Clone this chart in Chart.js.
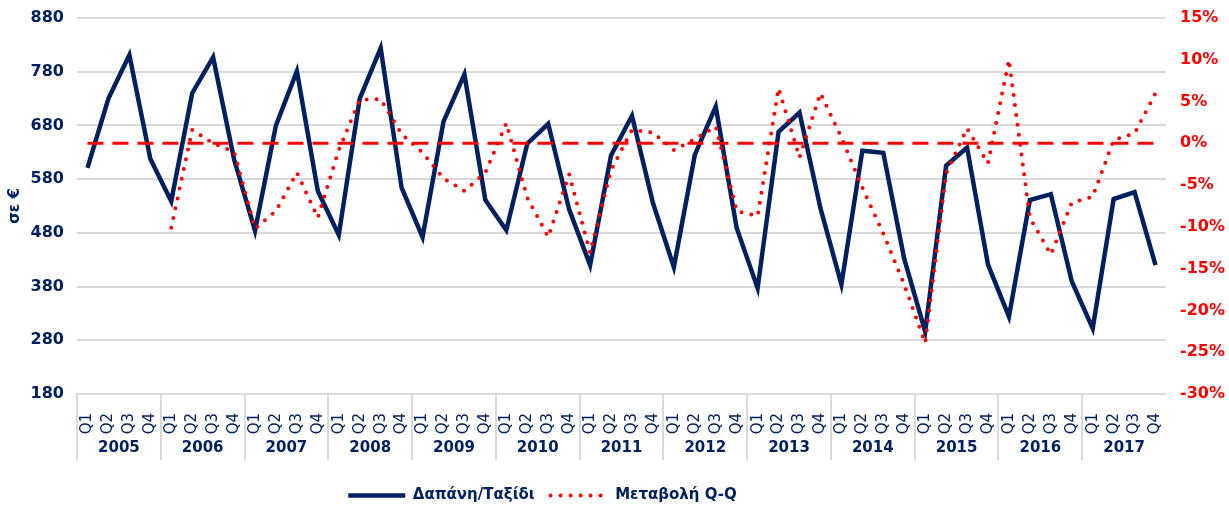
<!DOCTYPE html>
<html>
<head>
<meta charset="utf-8">
<script src="https://cdn.jsdelivr.net/npm/chart.js@4.4.1/dist/chart.umd.min.js"></script>
<style>
    html, body { margin: 0; padding: 0; background: #fff; }
</style>
</head>
<body>
<canvas id="chart" width="1229" height="513"></canvas>
<script>
// data
const years = ['2005', '2006', '2007', '2008', '2009', '2010', '2011',
               '2012', '2013', '2014', '2015', '2016', '2017'];
const quarterNames = ['Q1', 'Q2', 'Q3', 'Q4'];
const quarterLabels = years.flatMap(() => quarterNames);

// Δαπάνη/Ταξίδι, σε €
const spending = [
    601, 730, 811, 618,
    539, 740, 807, 617,
    484, 680, 781, 558,
    476, 730, 824, 564,
    472, 687, 775, 541,
    485, 646, 683, 524,
    420, 624, 698, 536,
    416, 625, 715, 489,
    377, 668, 704, 526,
    384, 633, 629, 432,
    296, 605, 639, 421,
    324, 541, 552, 390,
    302, 543, 556, 420
];

// Μεταβολή Q-Q, %
const qoqChange = [
    null, null, null, null,
    -10.1, 1.6, 0.0, -1.0,
    -10.2, -8.1, -3.5, -8.9,
    -0.8, 5.2, 5.3, 1.1,
    -1.1, -4.2, -5.7, -3.5,
    2.4, -6.5, -11.2, -3.7,
    -13.1, -3.2, 1.6, 1.3,
    -0.8, 0.5, 2.0, -8.1,
    -8.7, 6.6, -1.7, 6.0,
    0.7, -5.3, -10.8, -16.9,
    -23.9, -3.6, 1.8, -2.4,
    10.0, -8.9, -13.3, -7.1,
    -6.4, 0.4, 1.2, 6.0
];

const zeroLine = spending.map(() => 0);

const leftTicks = { min: 180, max: 880, step: 100 };
const rightTicks = { min: -30, max: 15, step: 5 };

const NAVY = '#002060';
const RED = '#ff0000';
const GRID = '#d9d9d9';
const FONT = 'DejaVu Sans';

// the legend in the reference sits left of centre
const legendShift = {
    id: 'legendShift',
    afterLayout(chart) {
        chart.legend.left -= 72;
        chart.legend.right -= 72;
    }
};

// legend samples should use the dataset line styles (dots for Q-Q)
function legendLabels(chart) {
    const items = Chart.defaults.plugins.legend.labels.generateLabels(chart);
    items.forEach((item) => {
        const ds = chart.data.datasets[item.datasetIndex];
        item.strokeStyle = ds.borderColor;
        item.lineWidth = ds.borderWidth;
        item.lineDash = ds.borderDash || [];
        item.lineCap = ds.borderCapStyle || 'butt';
        item.pointStyle = 'line';
    });
    return items;
}

// keep the tick padding from pushing the plot area down
function fixSide(width) {
    return function (scale) {
        scale.width = width;
        scale.paddingTop = 9;
        scale.paddingBottom = 9;
    };
}

const ctx = document.getElementById('chart').getContext('2d');
const chart = new Chart(ctx, {
    type: 'line',
    data: {
        labels: quarterLabels,
        datasets: [{
            label: 'Δαπάνη/Ταξίδι',
            data: spending,
            yAxisID: 'y',
            borderColor: NAVY,
            backgroundColor: NAVY,
            borderWidth: 4.5,
            borderJoinStyle: 'miter',
            pointRadius: 0,
            tension: 0,
            order: 3
        }, {
            label: 'zero',
            data: zeroLine,
            yAxisID: 'y1',
            borderColor: RED,
            borderWidth: 3,
            borderDash: [16, 9],
            pointRadius: 0,
            order: 2
        }, {
            label: 'Μεταβολή Q-Q',
            data: qoqChange,
            yAxisID: 'y1',
            borderColor: RED,
            backgroundColor: RED,
            borderWidth: 4,
            borderDash: [0, 10],
            borderCapStyle: 'round',
            pointRadius: 0,
            tension: 0,
            order: 1
        }]
    },
    options: {
        responsive: false,
        animation: false,
        layout: {
            padding: { top: 18, left: 0, right: 0, bottom: 0 }
        },
        plugins: {
            tooltip: { enabled: false },
            legend: {
                position: 'bottom',
                labels: {
                    usePointStyle: true,
                    pointStyle: 'line',
                    pointStyleWidth: 57,
                    padding: 16,
                    color: NAVY,
                    font: { family: FONT, size: 15, weight: 'bold' },
                    generateLabels: legendLabels,
                    filter: (item) => item.text !== 'zero',
                    sort: (a, b) => a.datasetIndex - b.datasetIndex
                }
            }
        },
        scales: {
            x: {
                type: 'category',
                offset: true,
                grid: {
                    offset: true,
                    drawOnChartArea: false,
                    tickLength: 66,
                    lineWidth: 2,
                    color: (c) => c.index % 4 === 0 ? GRID : 'rgba(0,0,0,0)'
                },
                border: { color: GRID, width: 2 },
                ticks: {
                    autoSkip: false,
                    maxRotation: 90,
                    minRotation: 90,
                    padding: -47,
                    color: NAVY,
                    font: { family: FONT, size: 15 }
                },
                afterFit(scale) { scale.height = 42; }
            },
            x2: {
                type: 'category',
                position: 'bottom',
                labels: years,
                offset: true,
                grid: { display: false, drawTicks: false },
                border: { display: false },
                ticks: {
                    autoSkip: false,
                    maxRotation: 0,
                    padding: 3,
                    color: NAVY,
                    font: { family: FONT, size: 15, weight: 'bold' }
                },
                afterFit(scale) { scale.height = 36; }
            },
            y: {
                position: 'left',
                min: leftTicks.min,
                max: leftTicks.max,
                grid: { color: GRID, lineWidth: 2, drawTicks: false },
                border: { display: false },
                title: {
                    display: true,
                    text: 'σε €',
                    color: NAVY,
                    font: { family: FONT, size: 15, weight: 'bold' },
                    padding: { top: 6, bottom: 0 }
                },
                ticks: {
                    stepSize: leftTicks.step,
                    padding: 13,
                    color: NAVY,
                    font: { family: FONT, size: 16, weight: 'bold' }
                },
                afterFit: fixSide(77)
            },
            y1: {
                position: 'right',
                min: rightTicks.min,
                max: rightTicks.max,
                grid: { drawOnChartArea: false, drawTicks: false },
                border: { display: false },
                ticks: {
                    stepSize: rightTicks.step,
                    padding: 14,
                    color: RED,
                    font: { family: FONT, size: 16, weight: 'bold' },
                    callback: (v) => v + '%'
                },
                afterFit: fixSide(63)
            }
        }
    },
    plugins: [legendShift]
});
</script>
</body>
</html>
